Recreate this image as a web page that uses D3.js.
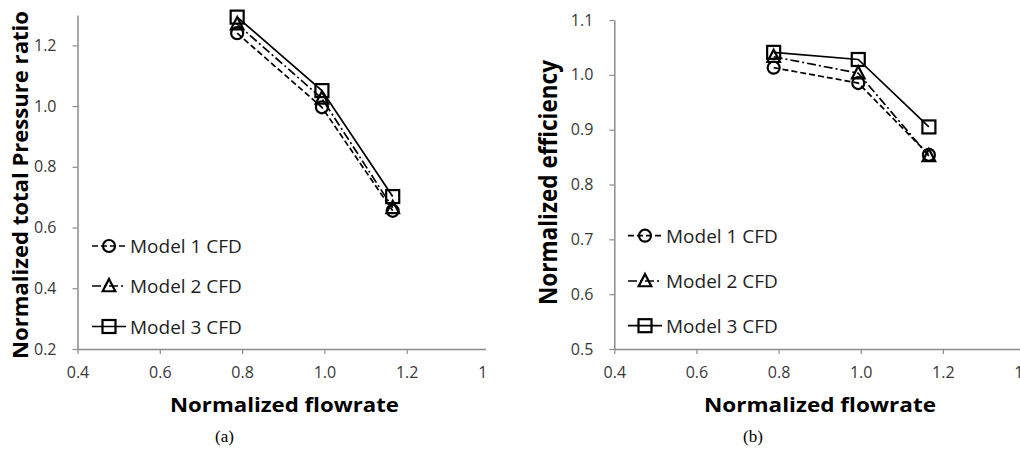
<!DOCTYPE html>
<html>
<head>
<meta charset="utf-8">
<script src="https://cdn.jsdelivr.net/npm/d3@7"></script>
<style>
  html, body { margin: 0; padding: 0; background: #fff; }
  svg { display: block; }
</style>
</head>
<body>
<svg id="chart" width="1020" height="450"></svg>
<script>
// Normalized flow rate at the three operating points
const flowrate = [0.788, 0.994, 1.166];

// Panel (a): normalized total pressure ratio
const pressureModel1 = [1.240, 0.996, 0.655];
const pressureModel2 = [1.270, 1.025, 0.665];
const pressureModel3 = [1.293, 1.051, 0.702];

// Panel (b): normalized efficiency
const efficiencyModel1 = [1.013, 0.985, 0.854];
const efficiencyModel2 = [1.033, 1.003, 0.852];
const efficiencyModel3 = [1.041, 1.028, 0.905];

const seriesNames = ["Model 1 CFD", "Model 2 CFD", "Model 3 CFD"];
const xTicks = [0.4, 0.6, 0.8, 1.0, 1.2, 1.4];
const pressureTicks = [0.2, 0.4, 0.6, 0.8, 1.0, 1.2];
const efficiencyTicks = [0.5, 0.6, 0.7, 0.8, 0.9, 1.0, 1.1];

const svg = d3.select("#chart");

// line dash and marker per series
const styles = [
  { dash: "6,3", marker: "circle" },
  { dash: "9,3,2,3", marker: "triangle" },
  { dash: null, marker: "square" }
];

function drawMarker(g, type, x, y) {
  if (type === "circle") {
    g.append("circle").attr("cx", x).attr("cy", y).attr("r", 6)
      .attr("fill", "none").attr("stroke", "#000").attr("stroke-width", 2.2);
  } else if (type === "triangle") {
    const s = 7;
    g.append("path")
      .attr("d", `M${x},${y - s} L${x + s * 0.9},${y + s * 0.75} L${x - s * 0.9},${y + s * 0.75} Z`)
      .attr("fill", "none").attr("stroke", "#000").attr("stroke-width", 2.2);
  } else {
    g.append("rect").attr("x", x - 6.5).attr("y", y - 6.5).attr("width", 13).attr("height", 13)
      .attr("fill", "none").attr("stroke", "#000").attr("stroke-width", 2.2);
  }
}

function panel(cfg) {
  const g = svg.append("g");
  const plot = g.append("g");
  if (cfg.clipW) {
    const id = "clip" + cfg.id;
    svg.append("clipPath").attr("id", id)
      .append("rect").attr("x", 0).attr("y", 0).attr("width", cfg.clipW).attr("height", 450);
    plot.attr("clip-path", `url(#${id})`);
  }

  const x = d3.scaleLinear().domain([0.4, 1.4]).range([cfg.x0, cfg.x1]);
  const y = d3.scaleLinear().domain(cfg.yDomain).range([349, cfg.yTop]);

  // axes
  const yAxis = d3.axisLeft(y).tickValues(cfg.yTicks).tickFormat(d3.format(".1f"))
    .tickSize(5).tickSizeOuter(0).tickPadding(16);
  const xAxis = d3.axisBottom(x).tickValues(xTicks).tickFormat(d3.format(".1f"))
    .tickSize(5).tickSizeOuter(0).tickPadding(13);

  const ya = plot.append("g").attr("transform", `translate(${cfg.x0},0)`).call(yAxis);
  const xa = plot.append("g").attr("transform", `translate(0,349)`).call(xAxis);
  [ya, xa].forEach(a => {
    a.select(".domain").attr("stroke", "#8c8c8c").attr("stroke-width", 1.5);
    a.selectAll(".tick line").attr("stroke", "#8c8c8c").attr("stroke-width", 1.2);
    a.selectAll(".tick text").attr("fill", "#383838")
      .style("font-family", "'Open Sans', sans-serif").style("font-size", "16px");
  });

  // series lines and markers
  const line = d3.line().x((d, i) => x(flowrate[i])).y(d => y(d));
  cfg.series.forEach((vals, k) => {
    const st = styles[k];
    plot.append("path").datum(vals).attr("d", line)
      .attr("fill", "none").attr("stroke", "#000").attr("stroke-width", 1.7)
      .attr("stroke-dasharray", st.dash);
  });
  cfg.series.forEach((vals, k) => {
    vals.forEach((v, i) => drawMarker(plot, styles[k].marker, x(flowrate[i]), y(v)));
  });

  // legend
  seriesNames.forEach((name, k) => {
    const ly = cfg.legendY[k];
    const st = styles[k];
    g.append("line").attr("x1", cfg.legendX).attr("x2", cfg.legendX + 34)
      .attr("y1", ly).attr("y2", ly)
      .attr("stroke", "#000").attr("stroke-width", 1.7).attr("stroke-dasharray", st.dash);
    drawMarker(g, st.marker, cfg.legendX + 17, ly);
    g.append("text").attr("x", cfg.legendX + 38).attr("y", ly + 7)
      .attr("fill", "#1f1f1f")
      .style("font-family", "'Open Sans', sans-serif").style("font-size", "19px")
      .text(name);
  });

  // axis titles
  g.append("text").attr("x", cfg.xTitleX).attr("y", 412).attr("text-anchor", "middle")
    .style("font-family", "'Open Sans', sans-serif").style("font-size", "20px").style("font-weight", "bold")
    .attr("textLength", cfg.xTitleLen).attr("lengthAdjust", "spacingAndGlyphs")
    .text("Normalized flowrate");

  g.append("text")
    .attr("transform", `translate(${cfg.yTitleX},${cfg.yTitleY}) rotate(-90)`)
    .attr("text-anchor", "middle")
    .style("font-family", "'Open Sans', sans-serif").style("font-size", cfg.yTitleSize + "px").style("font-weight", "bold")
    .attr("textLength", cfg.yTitleLen).attr("lengthAdjust", "spacingAndGlyphs")
    .text(cfg.yTitle);

  // caption
  g.append("text").attr("x", cfg.captionX).attr("y", 442).attr("text-anchor", "middle")
    .style("font-family", "'Liberation Serif', 'Times New Roman', serif").style("font-size", "17px")
    .text(cfg.caption);
}

panel({
  id: "a", clipW: 486,
  x0: 77.5, x1: 489, yDomain: [0.2, 1.3], yTop: 15, yTicks: pressureTicks,
  series: [pressureModel1, pressureModel2, pressureModel3],
  legendX: 92, legendY: [246, 286, 326.5],
  xTitleX: 284.5, xTitleLen: 229,
  yTitleX: 28, yTitleY: 185, yTitleLen: 348, yTitleSize: 22,
  yTitle: "Normalized total Pressure ratio",
  captionX: 224.5, caption: "(a)"
});

panel({
  id: "b", clipW: null,
  x0: 614.3, x1: 1025, yDomain: [0.5, 1.1], yTop: 20, yTicks: efficiencyTicks,
  series: [efficiencyModel1, efficiencyModel2, efficiencyModel3],
  legendX: 628, legendY: [235.7, 281, 325.7],
  xTitleX: 820, xTitleLen: 232,
  yTitleX: 557, yTitleY: 182.5, yTitleLen: 245, yTitleSize: 25,
  yTitle: "Normalized efficiency",
  captionX: 753, caption: "(b)"
});
</script>
</body>
</html>
